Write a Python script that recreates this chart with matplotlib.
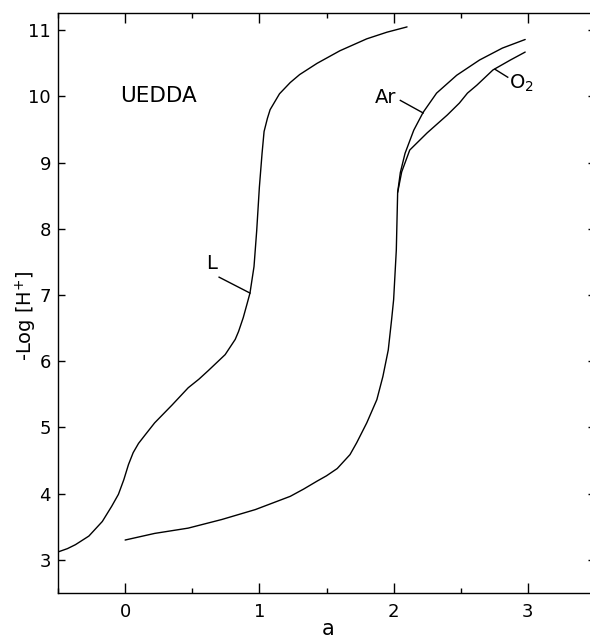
import matplotlib
matplotlib.use("Agg")
import matplotlib.pyplot as plt
from matplotlib.ticker import MultipleLocator

# ---- data ----
L_x = [-0.5, -0.43, -0.37, -0.27, -0.17, -0.10, -0.05, -0.01, 0.025, 0.06, 0.10, 0.15,
       0.22, 0.35, 0.47, 0.55, 0.62, 0.745, 0.82, 0.845, 0.88, 0.91, 0.93, 0.96, 0.98, 1.00,
       1.02, 1.035, 1.06, 1.08, 1.15, 1.23, 1.30, 1.43, 1.60, 1.80, 1.95, 2.10]
L_y = [3.12, 3.17, 3.23, 3.36, 3.58, 3.81, 3.99, 4.21, 4.44, 4.62, 4.76, 4.89,
       5.07, 5.34, 5.60, 5.73, 5.86, 6.10, 6.33, 6.45, 6.66, 6.88, 7.03, 7.43, 7.97, 8.63,
       9.14, 9.47, 9.67, 9.80, 10.04, 10.21, 10.33, 10.50, 10.69, 10.87, 10.97, 11.05]

Ar_x = [0.0, 0.22, 0.47, 0.72, 0.97, 1.23, 1.33, 1.43, 1.50, 1.58, 1.675, 1.725, 1.80,
        1.875, 1.92, 1.96, 1.985, 2.00, 2.02, 2.03, 2.05, 2.085, 2.15, 2.22, 2.32, 2.47,
        2.64, 2.81, 2.98]
Ar_y = [3.30, 3.40, 3.48, 3.61, 3.76, 3.96, 4.07, 4.19, 4.27, 4.38, 4.59, 4.77, 5.07,
        5.42, 5.77, 6.17, 6.63, 6.93, 7.68, 8.55, 8.85, 9.14, 9.49, 9.76, 10.05, 10.32,
        10.55, 10.73, 10.86]

O2_x = [2.03, 2.06, 2.12, 2.25, 2.40, 2.49, 2.55, 2.62, 2.74, 2.87, 2.98]
O2_y = [8.55, 8.86, 9.19, 9.45, 9.72, 9.90, 10.05, 10.17, 10.40, 10.55, 10.67]

x_ticks = [0, 1, 2, 3]
y_ticks = [3, 4, 5, 6, 7, 8, 9, 10, 11]

# curve labels: text, text position, leader start, leader end
labels = [
    ("L", (0.60, 7.47), (0.70, 7.27), (0.93, 7.03)),
    ("Ar", (1.86, 9.98), (2.05, 9.94), (2.22, 9.75)),
    ("O$_2$", (2.86, 10.20), (2.755, 10.41), (2.85, 10.29)),
]

fig = plt.figure(figsize=(5.9, 6.42), dpi=100)
ax = fig.add_axes([58/590, 49/642, 537/590, 580/642])

for xs, ys in [(L_x, L_y), (Ar_x, Ar_y), (O2_x, O2_y)]:
    ax.plot(xs, ys, color="black", lw=1.0, solid_capstyle="round", solid_joinstyle="round")

for txt, tpos, p0, p1 in labels:
    ax.text(tpos[0], tpos[1], txt, fontsize=14, ha="left", va="center")
    ax.plot([p0[0], p1[0]], [p0[1], p1[1]], color="black", lw=1.0)

ax.text(-0.04, 10.0, "UEDDA", fontsize=15.5, ha="left", va="center")

ax.set_xlim(-0.5, 3.5)
ax.set_ylim(2.5, 11.26)
ax.set_xticks(x_ticks)
ax.set_yticks(y_ticks)
ax.xaxis.set_minor_locator(MultipleLocator(0.5))
ax.tick_params(axis="x", which="major", direction="in", length=7, width=1.0,
               top=True, bottom=True, labelsize=13, pad=7)
ax.tick_params(axis="x", which="minor", direction="in", length=3.5, width=1.0,
               top=True, bottom=True)
ax.tick_params(axis="y", which="major", direction="in", length=5, width=1.0,
               left=True, right=True, labelsize=13, pad=5)
for s in ax.spines.values():
    s.set_linewidth(1.0)
ax.spines["right"].set_visible(False)

ax.set_xlabel("a", fontsize=15, va="baseline")
ax.xaxis.set_label_coords(0.503, -0.072)
ax.set_ylabel("-Log [H$^{+}$]", fontsize=14)
ax.yaxis.set_label_coords(-0.035, 0.478)

fig.savefig("out.png", dpi=100)
